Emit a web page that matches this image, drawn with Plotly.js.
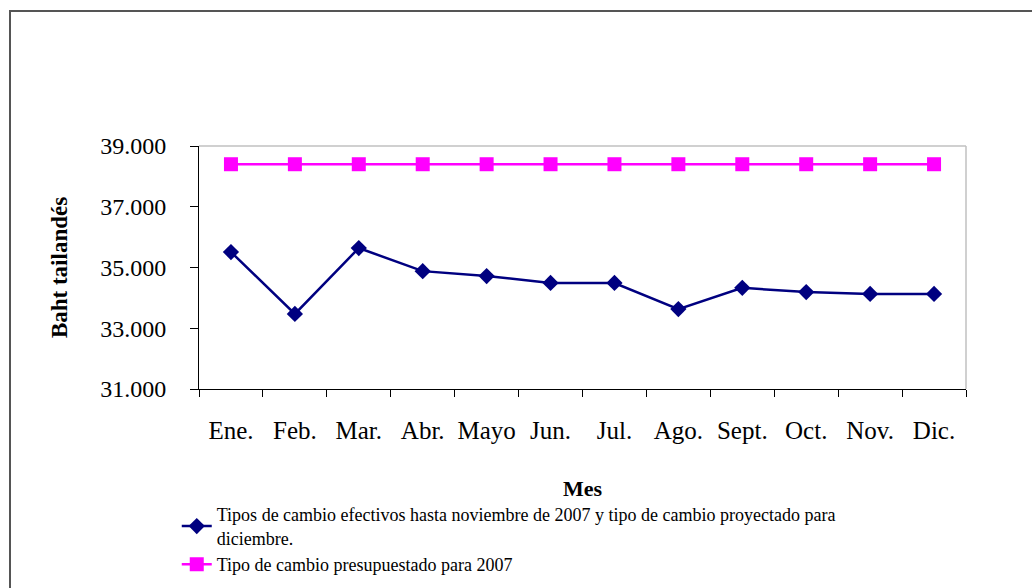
<!DOCTYPE html>
<html>
<head>
<meta charset="utf-8">
<script src="https://cdn.plot.ly/plotly-3.0.1.min.js"></script>
<style>
  html, body { margin: 0; padding: 0; background: #fff; }
  #wrap { position: relative; width: 1032px; height: 588px; overflow: hidden; }
  #chart { position: absolute; left: 0; top: 0; width: 1032px; height: 588px; }
  #frame { position: absolute; left: 9px; top: 10px; width: 1100px; height: 700px;
           border-left: 2px solid #555; border-top: 2px solid #555; pointer-events: none; }
</style>
</head>
<body>
<div id="wrap">
  <div id="chart"></div>
  <div id="frame"></div>
</div>
<script>
const months = ["Ene.", "Feb.", "Mar.", "Abr.", "Mayo", "Jun.", "Jul.", "Ago.", "Sept.", "Oct.", "Nov.", "Dic."];
const actualRates = [35.51, 33.47, 35.64, 34.88, 34.72, 34.49, 34.49, 33.63, 34.33, 34.19, 34.13, 34.13];
const budgetRates = [38.40, 38.40, 38.40, 38.40, 38.40, 38.40, 38.40, 38.40, 38.40, 38.40, 38.40, 38.40];
const actualName = "Tipos de cambio efectivos hasta noviembre de 2007 y tipo de cambio proyectado para<br>diciembre.";
const budgetName = "Tipo de cambio presupuestado para 2007";
const yTickVals = [31, 33, 35, 37, 39];

const FONT = "Liberation Serif, Times New Roman, serif";

const traces = [
  {
    x: months, y: actualRates, name: actualName, type: "scatter", mode: "lines+markers",
    line: { color: "#000080", width: 2.5 },
    marker: { symbol: "diamond", size: 12.5, color: "#000080" }
  },
  {
    x: months, y: budgetRates, name: budgetName, type: "scatter", mode: "lines+markers",
    line: { color: "#FF00FF", width: 2.5 },
    marker: { symbol: "square", size: 14, color: "#FF00FF" }
  }
];

const layout = {
  width: 1032, height: 588,
  margin: { l: 199, r: 66, t: 146, b: 199, autoexpand: false },
  paper_bgcolor: "#fff", plot_bgcolor: "#fff",
  font: { family: FONT, color: "#000" },
  showlegend: true,
  legend: {
    x: -0.029, xanchor: "left", y: -0.441, yanchor: "top",
    font: { family: FONT, size: 18, color: "#000" },
    bgcolor: "rgba(0,0,0,0)", tracegroupgap: 0, itemwidth: 30
  },
  xaxis: {
    type: "category",
    tickson: "boundaries",
    tickangle: 0,
    ticks: "outside", ticklen: 7, tickcolor: "#000", tickwidth: 1,
    showline: true, linecolor: "#000", linewidth: 1,
    showgrid: false, zeroline: false,
    tickfont: { family: FONT, size: 25, color: "#000" },
    ticklabelstandoff: 19,
    title: { text: "<b>Mes</b>", font: { family: FONT, size: 22, color: "#000" }, standoff: 37 },
    automargin: false,
    range: [-0.5, 11.5]
  },
  yaxis: {
    range: [31, 39],
    tickvals: yTickVals,
    tickformat: ".3f",
    ticks: "outside", ticklen: 8, tickcolor: "#000", tickwidth: 1,
    showline: true, linecolor: "#000", linewidth: 1,
    showgrid: false, zeroline: false,
    tickfont: { family: FONT, size: 24, color: "#000" },
    ticklabelstandoff: 19,
    title: { text: "<b>Baht tailandés</b>", font: { family: FONT, size: 23, color: "#000" }, standoff: 26 },
    automargin: false
  },
  shapes: [
    { type: "line", xref: "paper", yref: "paper", x0: 0, x1: 1, y0: 1, y1: 1, line: { color: "#c0c0c0", width: 1.5 } },
    { type: "line", xref: "paper", yref: "paper", x0: 1, x1: 1, y0: 0, y1: 1, line: { color: "#c0c0c0", width: 1.5 } }
  ]
};

Plotly.newPlot("chart", traces, layout, { displayModeBar: false, staticPlot: true });
</script>
</body>
</html>
